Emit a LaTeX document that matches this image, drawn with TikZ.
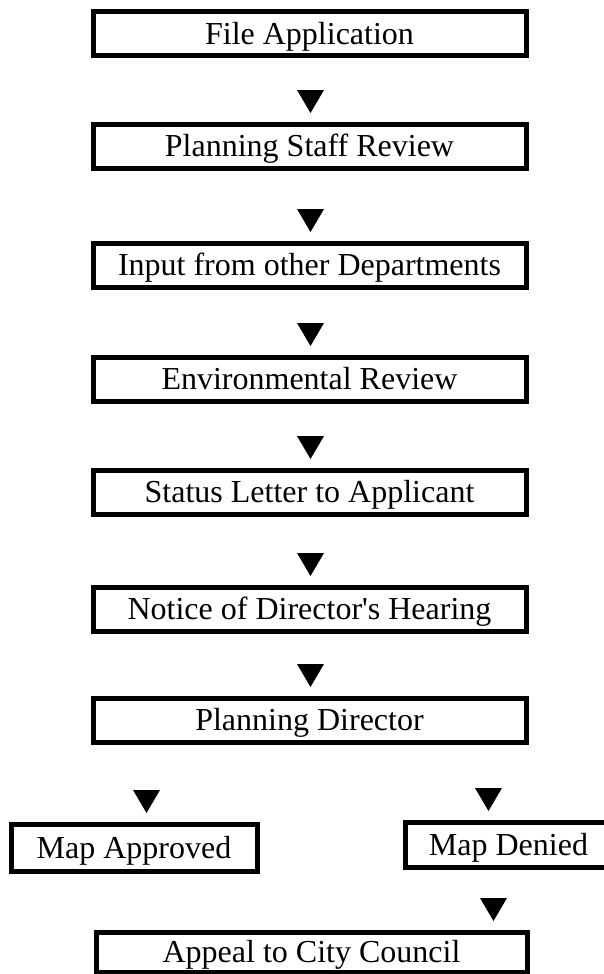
\documentclass[tikz,border=0pt]{standalone}
\usepackage{fontspec}
\setmainfont{Liberation Serif}[Ligatures=TeXOff]
\begin{document}
\begin{tikzpicture}[x=1pt,y=1pt,
  flowbox/.style={draw=black, line width=5pt, rectangle, inner sep=0pt,
    text height=21.2pt, text depth=0pt, anchor=north west,
    font=\fontsize{32}{38}\selectfont},
  mainbox/.style={flowbox, minimum width=433pt, minimum height=44pt},
  tri/.style={fill=black}]
\useasboundingbox (0,0) rectangle (603,-974);
\node[mainbox] (b1) at (90.5,-9.5)  {File Application\hspace{12pt}};
\node[mainbox] (b2) at (90.5,-121.5) {Planning Staff Review\hspace{12pt}};
\node[mainbox] (b3) at (90.5,-240.5) {Input from other Departments\hspace{12pt}};
\node[mainbox] (b4) at (90.5,-354.5) {Environmental Review\hspace{12pt}};
\node[mainbox] (b5) at (90.5,-467.5) {Status Letter to Applicant\hspace{12pt}};
\node[mainbox] (b6) at (90.5,-584.5) {Notice of Director's Hearing\hspace{12pt}};
\node[mainbox] (b7) at (90.5,-695.5) {Planning Director\hspace{12pt}};
\node[flowbox, minimum width=246pt, minimum height=47pt] (ma) at (8.5,-821.5) {Map Approved\hspace{12pt}};
\node[flowbox, minimum width=207pt, minimum height=45pt] (md) at (402.5,-819.5) {Map Denied\hspace{12pt}};
\node[flowbox, minimum width=431pt, minimum height=40pt] (ap) at (93.5,-929.5) {Appeal to City Council\hspace{12pt}};
% arrowheads
\foreach \n in {b2,b3,b4,b5,b6,b7}{
  \fill[tri] ([xshift=1pt,yshift=8.5pt]\n.north) -- ++(-13.5,23) -- ++(27,0) -- cycle;
}
\fill[tri] ([xshift=12.5pt,yshift=8.5pt]ma.north) -- ++(-13.5,23) -- ++(27,0) -- cycle;
\fill[tri] ([xshift=-20pt,yshift=8.5pt]md.north) -- ++(-13.5,23) -- ++(27,0) -- cycle;
\fill[tri] ([xshift=182pt,yshift=8.5pt]ap.north) -- ++(-13.5,23) -- ++(27,0) -- cycle;
\end{tikzpicture}
\end{document}
